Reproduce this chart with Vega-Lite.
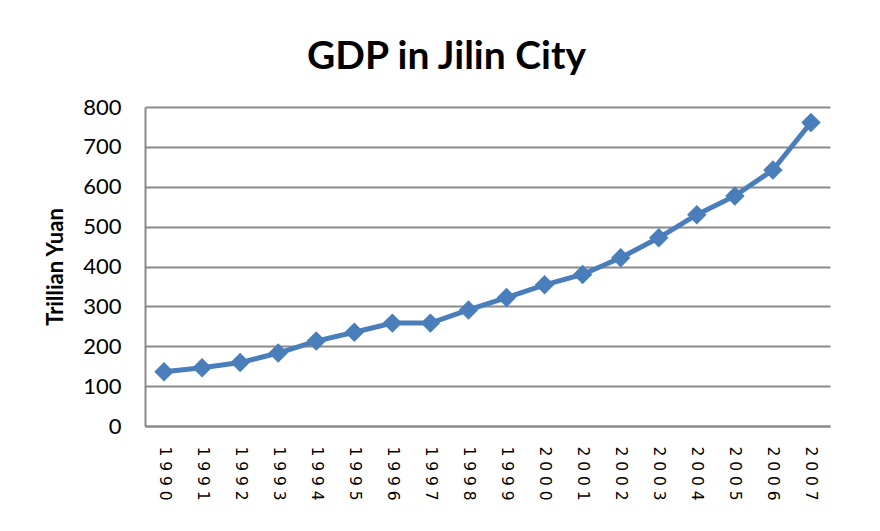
{
  "$schema": "https://vega.github.io/schema/vega-lite/v6.json",
  "width": 685,
  "height": 319,
  "autosize": {"type": "none"},
  "padding": {"left": 145, "top": 107, "right": 50, "bottom": 105},
  "background": "white",
  "title": {
    "text": "GDP in Jilin City",
    "font": "Lato",
    "fontSize": 39,
    "fontWeight": "bold",
    "color": "#000000",
    "anchor": "middle",
    "frame": "group",
    "dx": -41,
    "offset": 19
  },
  "config": {"view": {"stroke": null}},
  "data": {
    "values": [
      {"year": "1990", "gdp": 136},
      {"year": "1991", "gdp": 146},
      {"year": "1992", "gdp": 159},
      {"year": "1993", "gdp": 183},
      {"year": "1994", "gdp": 213},
      {"year": "1995", "gdp": 235},
      {"year": "1996", "gdp": 258},
      {"year": "1997", "gdp": 258},
      {"year": "1998", "gdp": 291},
      {"year": "1999", "gdp": 322},
      {"year": "2000", "gdp": 354},
      {"year": "2001", "gdp": 380},
      {"year": "2002", "gdp": 422},
      {"year": "2003", "gdp": 472},
      {"year": "2004", "gdp": 530},
      {"year": "2005", "gdp": 577},
      {"year": "2006", "gdp": 642},
      {"year": "2007", "gdp": 761}
    ]
  },
  "mark": {
    "type": "line",
    "color": "#4A7EBB",
    "strokeWidth": 5,
    "point": {"shape": "diamond", "size": 380, "filled": true, "color": "#4A7EBB", "opacity": 1}
  },
  "encoding": {
    "x": {
      "field": "year",
      "type": "ordinal",
      "scale": {"type": "point", "padding": 0.5},
      "axis": {
        "title": null,
        "labelAngle": 90,
        "labelAlign": "left",
        "labelBaseline": "middle",
        "labelExpr": "join(split(datum.label, ''), ' ')",
        "labelFont": "DejaVu Sans",
        "labelFontSize": 15.5,
        "labelColor": "#000000",
        "labelPadding": 20,
        "ticks": false,
        "domain": true,
        "domainColor": "#8a8a8a",
        "domainWidth": 2,
        "grid": false
      }
    },
    "y": {
      "field": "gdp",
      "type": "quantitative",
      "scale": {"domain": [0, 800], "nice": false, "zero": true},
      "axis": {
        "title": "Trillian Yuan",
        "titleFont": "Lato",
        "titleFontSize": 22,
        "titleFontWeight": "bold",
        "titleColor": "#000000",
        "titlePadding": 15,
        "values": [0, 100, 200, 300, 400, 500, 600, 700, 800],
        "labelFont": "Lato",
        "labelFontSize": 22,
        "labelColor": "#000000",
        "labelPadding": 24,
        "ticks": false,
        "domain": true,
        "domainColor": "#8a8a8a",
        "domainWidth": 2,
        "grid": true,
        "gridColor": "#8a8a8a",
        "gridWidth": 2
      }
    }
  }
}
